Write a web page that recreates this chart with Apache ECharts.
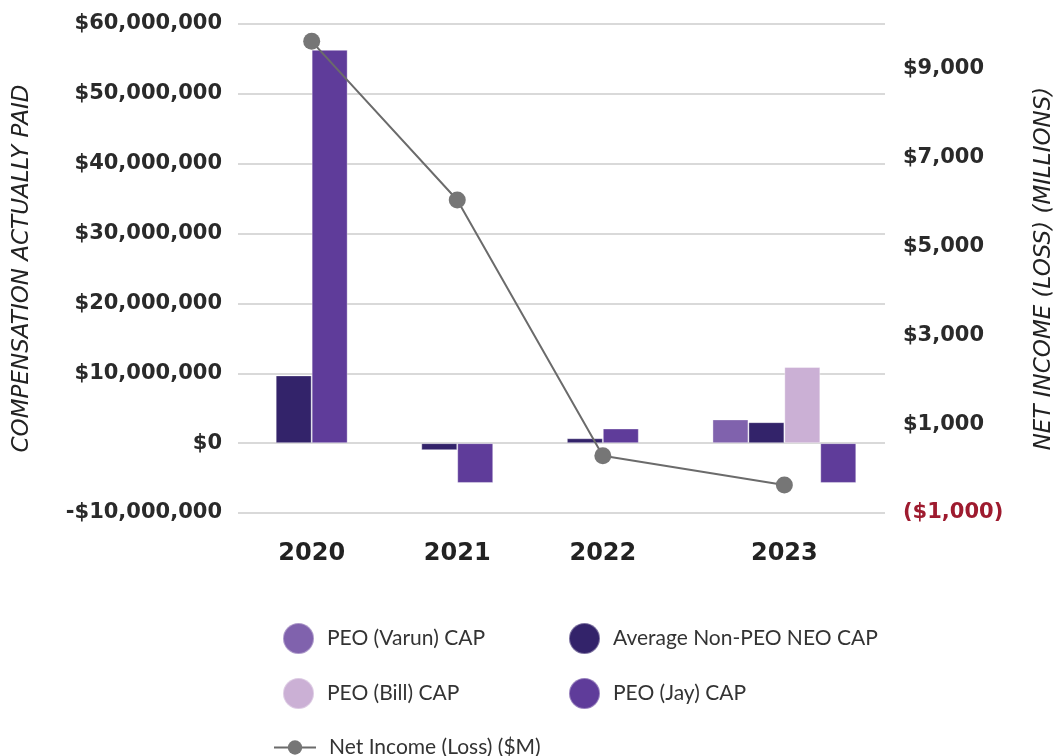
<!DOCTYPE html>
<html>
<head>
<meta charset="utf-8">
<script src="https://cdn.jsdelivr.net/npm/echarts@6/dist/echarts.min.js"></script>
<style>
  html, body { margin: 0; background: #fff; }
  #chart { width: 1059px; height: 756px; }
</style>
</head>
<body>
<div id="chart"></div>
<script>
const years = ['2020', '2021', '2022', '2023']
const varunCap = [null, null, null, 3400000]
const neoCap = [9700000, -1000000, 700000, 3000000]
const billCap = [null, null, null, 10900000]
const jayCap = [56300000, -5700000, 2100000, -5700000]
const netIncome = [9610, 6040, 290, -370]

const barSeries = [
  { name: 'PEO (Varun) CAP', data: varunCap, color: '#8062ad' },
  { name: 'Average Non-PEO NEO CAP', data: neoCap, color: '#33236a' },
  { name: 'PEO (Bill) CAP', data: billCap, color: '#cbb0d5' },
  { name: 'PEO (Jay) CAP', data: jayCap, color: '#5f3c9a' }
]

// bars of a year sit side by side, empty ones take no room
const leadGap = 1.05, groupGap = 2.05, xMax = 18
const groupCenters = []
const barPos = barSeries.map(() => [])
let cursor = leadGap
years.forEach((y, i) => {
  const start = cursor
  barSeries.forEach((s, k) => {
    if (s.data[i] != null) {
      barPos[k][i] = cursor + 0.5
      cursor += 1
    }
  })
  groupCenters.push((start + cursor) / 2)
  cursor += groupGap
})

const nearestYear = (v) => {
  let best = 0
  groupCenters.forEach((c, i) => { if (Math.abs(c - v) < Math.abs(groupCenters[best] - v)) best = i })
  return years[best]
}

const money = (v) => (v < 0 ? '-$' : '$') + Math.abs(v).toLocaleString('en-US')

const chart = echarts.init(document.getElementById('chart'))

const legendText = { fontFamily: 'Lato', fontSize: 21, color: '#333', padding: [0, 0, 0, 8] }

chart.setOption({
  animation: false,
  textStyle: { fontFamily: 'DejaVu Sans' },
  grid: { left: 238, right: 174, top: 24, bottom: 243, outerBoundsMode: 'none' },
  legend: [
    {
      data: ['PEO (Varun) CAP', 'PEO (Bill) CAP'],
      orient: 'vertical', left: 277, top: 617,
      icon: 'circle', itemWidth: 31, itemHeight: 31, itemGap: 22,
      textStyle: legendText
    },
    {
      data: ['Average Non-PEO NEO CAP', 'PEO (Jay) CAP'],
      orient: 'vertical', left: 563, top: 617,
      icon: 'circle', itemWidth: 31, itemHeight: 31, itemGap: 22,
      textStyle: legendText
    },
    {
      data: ['Net Income (Loss) ($M)'],
      left: 268, top: 732,
      itemWidth: 42, itemHeight: 18,
      textStyle: legendText
    }
  ],
  xAxis: {
    type: 'value',
    min: 0,
    max: xMax,
    splitLine: { show: false },
    axisLine: { show: false },
    axisTick: { show: false },
    axisLabel: {
      customValues: groupCenters,
      margin: 29,
      fontSize: 24,
      fontWeight: 'bold',
      color: '#222',
      formatter: nearestYear
    }
  },
  yAxis: [
    {
      type: 'value',
      min: -10000000,
      max: 60000000,
      interval: 10000000,
      name: 'COMPENSATION ACTUALLY PAID',
      nameLocation: 'middle',
      nameRotate: 90,
      nameGap: 204,
      nameTextStyle: { fontSize: 23, fontStyle: 'italic', color: '#222' },
      axisLine: { show: false },
      axisTick: { show: false },
      axisLabel: { margin: 16, fontSize: 21, fontWeight: 'bold', color: '#2a2a2a', formatter: money },
      splitLine: { lineStyle: { color: '#d9d9d9', width: 2 } }
    },
    {
      type: 'value',
      min: -1000,
      max: 10000,
      interval: 2000,
      position: 'right',
      name: 'NET INCOME (LOSS) (MILLIONS)',
      nameLocation: 'middle',
      nameRotate: 90,
      nameGap: 148,
      nameTextStyle: { fontSize: 23, fontStyle: 'italic', color: '#222' },
      axisLine: { show: false },
      axisTick: { show: false },
      splitLine: { show: false },
      axisLabel: {
        margin: 18,
        fontSize: 21,
        fontWeight: 'bold',
        color: (v) => (v < 0 ? '#9e1b2f' : '#2a2a2a'),
        formatter: (v) => {
          if (v >= 10000) return ''
          const s = '$' + Math.abs(v).toLocaleString('en-US')
          return v < 0 ? '(' + s + ')' : s
        }
      }
    }
  ],
  series: [
    ...barSeries.map((s, k) => ({
      type: 'bar',
      name: s.name,
      barWidth: 36,
      barGap: '-100%',
      itemStyle: { color: s.color, borderColor: 'rgba(255,255,255,0.35)', borderWidth: 1 },
      data: s.data.map((v, i) => (v == null ? null : [barPos[k][i], v])).filter(d => d)
    })),
    {
      type: 'line',
      name: 'Net Income (Loss) ($M)',
      yAxisIndex: 1,
      symbol: 'circle',
      symbolSize: 17,
      lineStyle: { color: '#6b6b6b', width: 2 },
      itemStyle: { color: '#767676' },
      z: 5,
      data: netIncome.map((v, i) => [groupCenters[i], v])
    }
  ]
})
</script>
</body>
</html>
